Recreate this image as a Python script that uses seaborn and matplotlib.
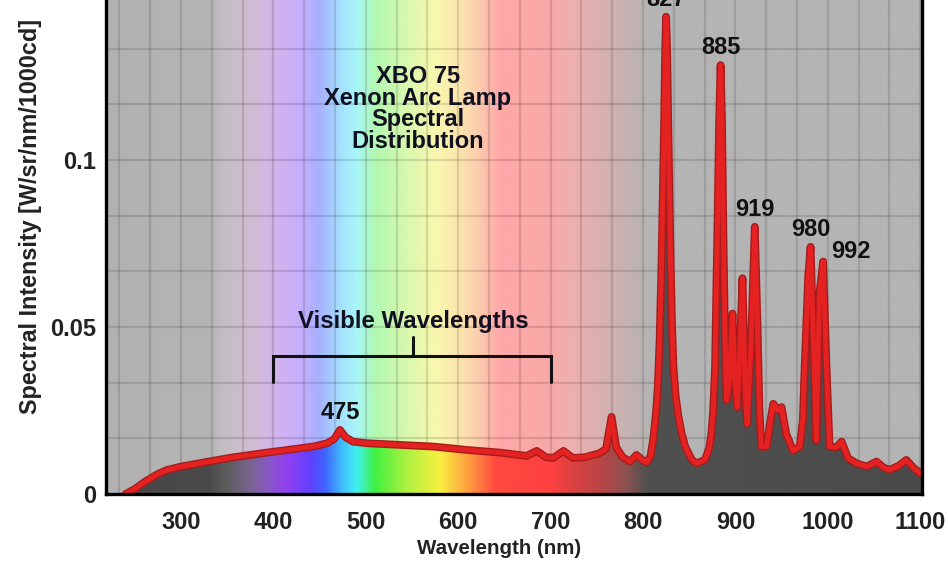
import numpy as np
import matplotlib
matplotlib.use("Agg")
import matplotlib.pyplot as plt
import matplotlib.patheffects as pe
from matplotlib.colors import to_rgb
import seaborn as sns

# ---------------- data ----------------
wavelength = [240, 250, 260, 266, 275, 285, 300, 320, 340, 357, 375, 393, 410,
              429, 445, 458, 466, 472, 478, 486, 501, 537, 573, 609, 645, 674,
              685, 695, 703, 714, 724, 737, 753, 760, 766, 771, 778, 786, 793,
              800, 804, 808, 811, 814, 816, 818, 820, 822.7, 824, 825, 826.2,
              827.5, 830, 831.5, 833, 835.5, 838.5, 842, 845.7, 853, 858, 867,
              872, 874, 876, 878, 880.5, 882.5, 884, 885.5, 887, 888.7, 890.5,
              893.5, 896.9, 899.5, 902, 904.5, 907.7, 910.5, 912.7, 917, 921,
              924, 926, 928, 933.8, 938, 941, 946.4, 950, 955, 962.5, 969.7,
              973, 975, 978.8, 981.4, 984, 987.7, 991, 995, 998.6, 1002, 1009.5,
              1015, 1022, 1031, 1042, 1052.7, 1060, 1067, 1077, 1085, 1093,
              1100, 1103]
intensity = [0.0, 0.0015, 0.0035, 0.0045, 0.006, 0.0072, 0.0082, 0.0092, 0.0102,
             0.0110, 0.0117, 0.0124, 0.0130, 0.0137, 0.0143, 0.0152, 0.0165,
             0.0192, 0.0170, 0.0157, 0.0152, 0.0147, 0.0142, 0.0132, 0.0124,
             0.0114, 0.0129, 0.0110, 0.0108, 0.0129, 0.0108, 0.0110, 0.0122,
             0.0135, 0.0231, 0.0140, 0.0110, 0.0097, 0.0117, 0.0100, 0.0094,
             0.0112, 0.0162, 0.0240, 0.0320, 0.046, 0.068, 0.108, 0.132, 0.1429,
             0.132, 0.108, 0.068, 0.050, 0.038, 0.029, 0.023, 0.018, 0.0142,
             0.0102, 0.0092, 0.0102, 0.0140, 0.018, 0.025, 0.038, 0.078, 0.112,
             0.1284, 0.112, 0.078, 0.048, 0.028, 0.034, 0.054, 0.034, 0.026,
             0.040, 0.0646, 0.032, 0.021, 0.045, 0.080, 0.050, 0.026, 0.0142,
             0.0142, 0.022, 0.027, 0.025, 0.026, 0.018, 0.013, 0.0142, 0.022,
             0.038, 0.065, 0.074, 0.050, 0.016, 0.060, 0.0696, 0.038, 0.0142,
             0.014, 0.0157, 0.0107, 0.0092, 0.0082, 0.0097, 0.0080, 0.0072,
             0.0085, 0.0102, 0.0078, 0.0062, 0.0058]

peak_labels = ["475", "827", "885", "919", "980", "992"]
peak_wl = [472, 825, 884, 921, 981.4, 995]
peak_val = [0.0192, 0.1429, 0.1284, 0.080, 0.074, 0.0696]

x_ticks = [300, 400, 500, 600, 700, 800, 900, 1000, 1100]
y_ticks = [0, 0.05, 0.1]
y_ticklabels = ["0", "0.05", "0.1"]

title_text = "XBO 75\nXenon Arc Lamp\nSpectral\nDistribution"
visible_text = "Visible Wavelengths"
visible_range = [400, 700]
xlabel = "Wavelength (nm)"
ylabel = "Spectral Intensity [W/sr/nm/1000cd]"

# ---------------- styling ----------------
sns.set_style("white")
plt.rcParams["font.family"] = ["Liberation Sans", "DejaVu Sans"]
plt.rcParams["font.weight"] = "bold"

XMIN, XMAX = 218.8, 1102
YMIN, YMAX = 0, 0.1479

fig = plt.figure(figsize=(9.48, 5.64), dpi=100)
ax = fig.add_axes([106 / 948, 70 / 564, 816 / 948, 494 / 564])

# background (pastel spectrum) colour stops
bg_stops = [(218, "#b2b2b2"), (330, "#b4b4b4"), (345, "#c2bec2"), (380, "#d2bcd6"),
            (410, "#d0b2f2"), (430, "#c4aefc"), (450, "#a6b2ff"), (475, "#a6e4ff"),
            (490, "#a6f6f8"), (510, "#b2f8b2"), (540, "#d4f8ae"), (575, "#f8f8ae"),
            (600, "#fce6ae"), (620, "#fccfae"), (645, "#ffa8a8"), (700, "#f8a8a8"),
            (720, "#f0afaf"), (750, "#dcb0b0"), (785, "#c4b2b2"), (810, "#b4b4b4"),
            (1110, "#b4b4b4")]
fill_stops = [(218, "#474747"), (330, "#4a4a4a"), (350, "#5c5c5c"), (375, "#7a6490"),
              (395, "#8a58c8"), (415, "#9040f0"), (440, "#6040ff"), (455, "#4060ff"),
              (475, "#40c0ff"), (490, "#40f0f0"), (510, "#40f040"), (545, "#b0f040"),
              (580, "#f8f040"), (610, "#ffa040"), (640, "#ff4a40"), (700, "#ff4040"),
              (720, "#e04040"), (750, "#c04444"), (780, "#905050"), (805, "#505050"),
              (1110, "#4a4a4a")]


def strip(stops, n=1200):
    xs = np.linspace(XMIN, XMAX, n)
    sx = [s[0] for s in stops]
    cols = np.array([to_rgb(s[1]) for s in stops])
    rgb = np.stack([np.interp(xs, sx, cols[:, k]) for k in range(3)], axis=-1)
    return rgb[np.newaxis, :, :]


ax.imshow(strip(bg_stops), extent=(XMIN, XMAX, YMIN, YMAX), aspect="auto",
          zorder=0, interpolation="bilinear")

# grid
for k in range(-3, 30):
    xv = 300 + k * 100 / 3
    if XMIN < xv < XMAX:
        ax.axvline(xv, color="black", alpha=0.12, lw=1.6, zorder=1)
for k in range(1, 9):
    yv = k * 0.05 / 3
    if yv < YMAX:
        ax.axhline(yv, color="black", alpha=0.12, lw=1.6, zorder=1)

# fill under curve, coloured by spectrum
poly = ax.fill_between(wavelength, intensity, 0, color="none", zorder=2)
fill_im = ax.imshow(strip(fill_stops), extent=(XMIN, XMAX, YMIN, YMAX),
                    aspect="auto", zorder=2, interpolation="bilinear")
fill_im.set_clip_path(poly.get_paths()[0], transform=ax.transData)

# spectral curve
sns.lineplot(x=wavelength, y=intensity, ax=ax, color="#e52222", lw=3.6,
             zorder=4, sort=False, estimator=None)
line = ax.get_lines()[-1]
line.set_solid_joinstyle("round")
line.set_solid_capstyle("round")
line.set_path_effects([pe.Stroke(linewidth=5.6, foreground="#a41c1c"), pe.Normal()])

ax.set_xlim(XMIN, XMAX)
ax.set_ylim(YMIN, YMAX)

# peak labels
for lab, px, py in zip(peak_labels, peak_wl, peak_val):
    dx, dy = (0, 12.5)
    if lab == "992":
        dx, dy = (20, 7)
    ax.annotate(lab, (px, py), xytext=(dx, dy), textcoords="offset points",
                ha="center", va="center", fontsize=17, fontweight="bold",
                color="#111111", zorder=6, annotation_clip=False)

# title block
ax.text(556.5, 0.1153, title_text, ha="center", va="center", fontsize=17,
        fontweight="bold", color="#111122", linespacing=0.93, zorder=6)

# visible wavelengths bracket
mid = (visible_range[0] + visible_range[1]) / 2 + 1
ax.plot([visible_range[0], visible_range[0], visible_range[1], visible_range[1]],
        [0.0336, 0.0412, 0.0412, 0.0336], color="#111111", lw=2.2, zorder=5,
        solid_joinstyle="miter")
ax.plot([mid, mid], [0.0412, 0.047], color="#111111", lw=2.2, zorder=5)
ax.text(mid, 0.0515, visible_text, ha="center", va="center", fontsize=17.3,
        fontweight="bold", color="#111122", zorder=6)

# axes styling
ax.set_xticks(x_ticks)
ax.set_xticklabels([str(t) for t in x_ticks])
ax.set_yticks(y_ticks)
ax.set_yticklabels(y_ticklabels)
ax.tick_params(axis="both", direction="in", length=7, width=2.2, color="black",
               labelsize=17, labelcolor="#222222", zorder=7)
ax.tick_params(axis="x", pad=12)
ax.tick_params(axis="y", pad=7)
for lbl in ax.get_xticklabels() + ax.get_yticklabels():
    lbl.set_fontweight("bold")

ax.set_xlabel(xlabel, fontsize=14.8, fontweight="bold", color="#222222")
ax.set_ylabel(ylabel, fontsize=16.8, fontweight="bold", color="#222222")
ax.xaxis.set_label_coords(0.4816, -0.091)
ax.yaxis.set_label_coords(-0.078, 0.5628)

for side in ["left", "bottom", "right"]:
    sp = ax.spines[side]
    sp.set_visible(True)
    sp.set_color("black")
    sp.set_linewidth(2.4)
    sp.set_zorder(8)
    sp.set_path_effects([pe.SimplePatchShadow(offset=(3, -3), alpha=0.35),
                         pe.Normal()])
ax.spines["top"].set_visible(False)

fig.savefig("out.png", dpi=100)
